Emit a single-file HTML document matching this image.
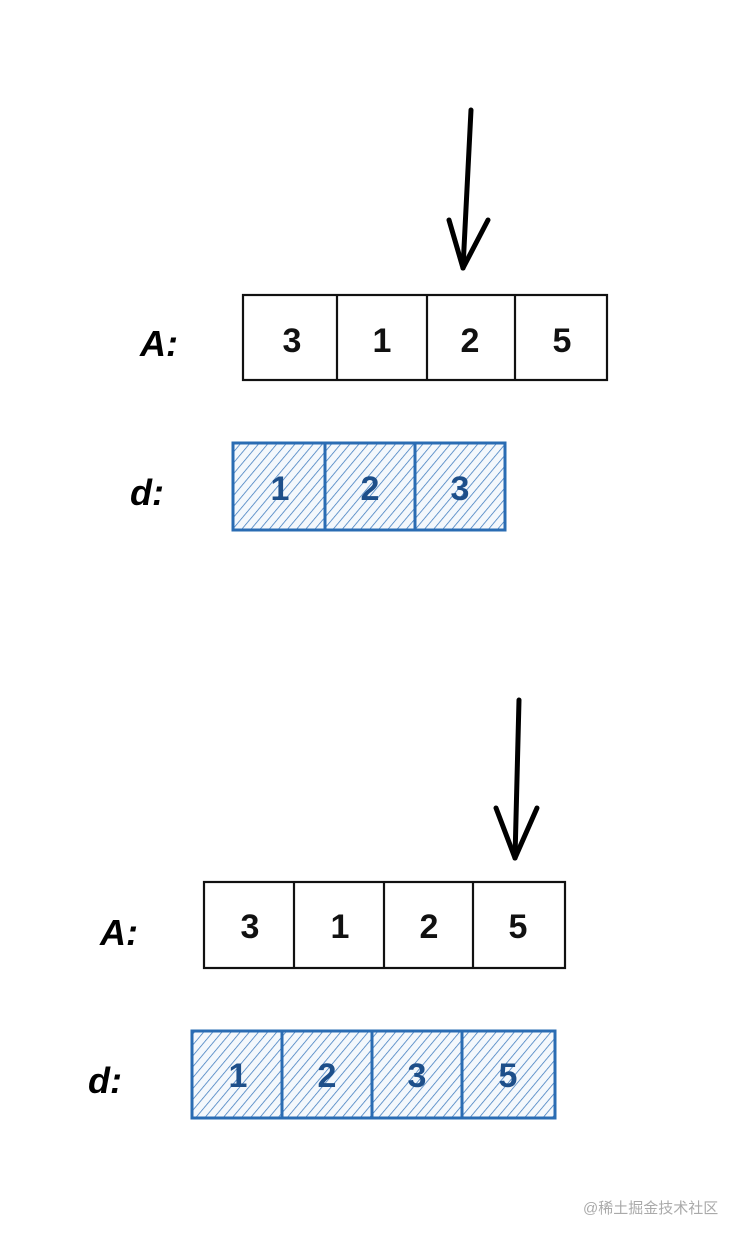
<!DOCTYPE html>
<html><head><meta charset="utf-8"><style>
html,body{margin:0;padding:0;background:#fff;width:748px;height:1240px;overflow:hidden}
svg{display:block}
text{font-family:"Liberation Sans",sans-serif}
</style></head><body>
<svg width="748" height="1240" viewBox="0 0 748 1240" xmlns="http://www.w3.org/2000/svg">
<defs>
<pattern id="h" width="7" height="7" patternUnits="userSpaceOnUse" patternTransform="rotate(40)">
<rect width="7" height="7" fill="#f4f8fc"/>
<line x1="0" y1="0" x2="0" y2="7" stroke="#3a78bd" stroke-width="1.5"/>
</pattern>
</defs>
<g stroke="#000" stroke-width="5" stroke-linecap="round" fill="none">
<line x1="471" y1="110" x2="463" y2="268"/>
<line x1="449" y1="220" x2="463" y2="268"/>
<line x1="488" y1="220" x2="463" y2="268"/>
</g>
<g stroke="#111" stroke-width="2.2" fill="none">
<rect x="243" y="295" width="364" height="85"/>
<line x1="337" y1="295" x2="337" y2="380"/>
<line x1="427" y1="295" x2="427" y2="380"/>
<line x1="515" y1="295" x2="515" y2="380"/>
</g>
<g font-size="34" text-anchor="middle" fill="#111" font-weight="bold">
<text x="292" y="352">3</text><text x="382" y="352">1</text><text x="470" y="352">2</text><text x="562" y="352">5</text>
</g>
<text x="140" y="356" font-size="36" font-style="italic" font-weight="bold">A:</text>
<g stroke="#2a6cb3" stroke-width="3">
<rect x="233" y="443" width="272" height="87" fill="url(#h)"/>
<line x1="325" y1="443" x2="325" y2="530"/>
<line x1="415" y1="443" x2="415" y2="530"/>
</g>
<g font-size="34" text-anchor="middle" fill="#1d4f8a" font-weight="bold">
<text x="280" y="500">1</text><text x="370" y="500">2</text><text x="460" y="500">3</text>
</g>
<text x="130" y="505" font-size="36" font-style="italic" font-weight="bold">d:</text>
<g stroke="#000" stroke-width="5" stroke-linecap="round" fill="none">
<line x1="519" y1="700" x2="515" y2="858"/>
<line x1="496" y1="808" x2="515" y2="858"/>
<line x1="537" y1="808" x2="515" y2="858"/>
</g>
<g stroke="#111" stroke-width="2.2" fill="none">
<rect x="204" y="882" width="361" height="86"/>
<line x1="294" y1="882" x2="294" y2="968"/>
<line x1="384" y1="882" x2="384" y2="968"/>
<line x1="473" y1="882" x2="473" y2="968"/>
</g>
<g font-size="34" text-anchor="middle" fill="#111" font-weight="bold">
<text x="250" y="938">3</text><text x="340" y="938">1</text><text x="429" y="938">2</text><text x="518" y="938">5</text>
</g>
<text x="100" y="945" font-size="36" font-style="italic" font-weight="bold">A:</text>
<g stroke="#2a6cb3" stroke-width="3">
<rect x="192" y="1031" width="363" height="87" fill="url(#h)"/>
<line x1="282" y1="1031" x2="282" y2="1118"/>
<line x1="372" y1="1031" x2="372" y2="1118"/>
<line x1="462" y1="1031" x2="462" y2="1118"/>
</g>
<g font-size="34" text-anchor="middle" fill="#1d4f8a" font-weight="bold">
<text x="238" y="1087">1</text><text x="327" y="1087">2</text><text x="417" y="1087">3</text><text x="508" y="1087">5</text>
</g>
<text x="88" y="1093" font-size="36" font-style="italic" font-weight="bold">d:</text>
<text x="583" y="1213" font-size="15" fill="#aaa" style='font-family:"Liberation Sans","Noto Sans CJK SC",sans-serif'>@稀土掘金技术社区</text>
</svg>
</body></html>
